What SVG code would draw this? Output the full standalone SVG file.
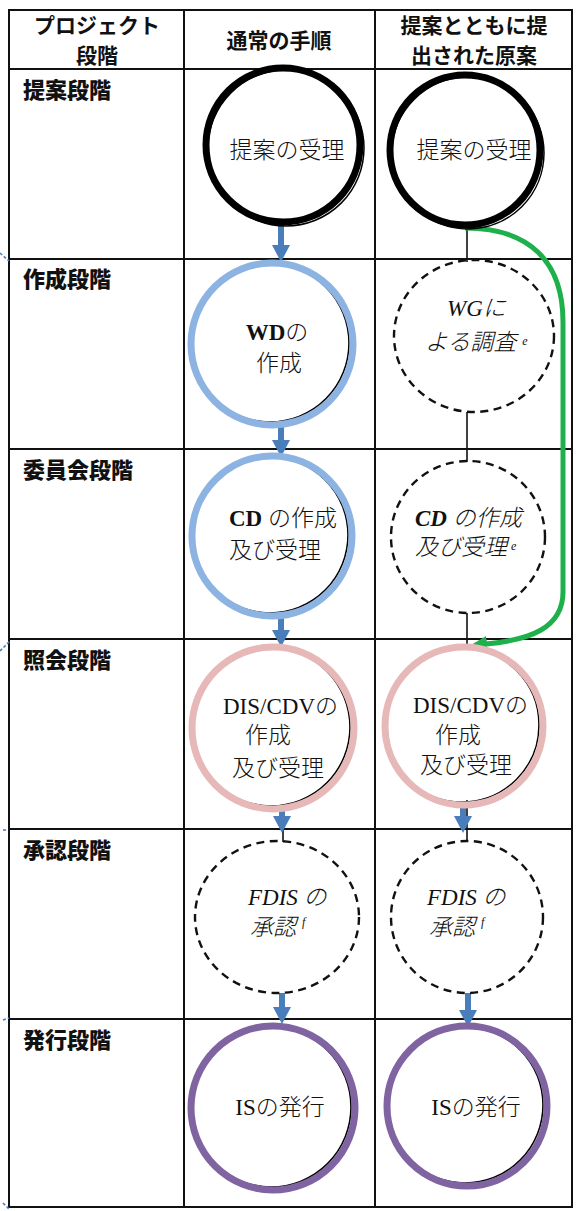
<svg xmlns="http://www.w3.org/2000/svg" width="577" height="1211" viewBox="0 0 577 1211">
<defs>
<style>
.grid{stroke:#111;stroke-width:2;fill:none}
.hd{font-family:"Noto Sans CJK JP","Noto Sans CJK SC",sans-serif;font-weight:700;font-size:21px;fill:#111;text-anchor:middle}
.rl{font-family:"Noto Sans CJK JP","Noto Sans CJK SC",sans-serif;font-weight:900;font-size:22px;fill:#111}
.t{font-family:"Liberation Serif","Noto Sans CJK JP",serif;font-weight:300;font-size:23px;fill:#111}
.it{font-style:italic}
.sup{font-size:12px}
.b{font-weight:700}
.blk{fill:none;stroke:#000;stroke-width:7}
.blk2{fill:none;stroke:#000;stroke-width:1.5}
.ring{fill:none;stroke-width:7}
.inner{fill:none;stroke:#000;stroke-width:1.6}
.blue{stroke:#8db3e2}
.pink{stroke:#e6b9b8}
.purple{stroke:#8064a2}
.dash{fill:none;stroke:#111;stroke-width:2.4;stroke-dasharray:8 5.5}
.conn{stroke:#111;stroke-width:1.6;fill:none}
.arr{stroke:#4a7ebb;stroke-width:6;fill:none}
.grn{stroke:#1eb14b;stroke-width:5;fill:none}
.tick{stroke:#4a7ebb;stroke-width:1.6;stroke-dasharray:3 2;fill:none}
</style>
<marker id="ah" markerUnits="userSpaceOnUse" viewBox="0 -9 17 18" markerWidth="17" markerHeight="18" refX="1" refY="0" orient="auto">
<path d="M0,-9 L17,0 L0,9 z" fill="#4a7ebb"/>
</marker>
<marker id="gh" markerUnits="userSpaceOnUse" viewBox="0 -8 17 16" markerWidth="17" markerHeight="16" refX="1" refY="0" orient="auto">
<path d="M0,-8 L17,0 L0,8 z" fill="#1eb14b"/>
</marker>
</defs>
<rect width="577" height="1211" fill="#fff"/>

<g id="table">
<rect class="grid" x="9" y="10" width="563" height="1197"/>
<line class="grid" x1="184" y1="10" x2="184" y2="1207"/>
<line class="grid" x1="375" y1="10" x2="375" y2="1207"/>
<line class="grid" x1="9" y1="69" x2="572" y2="69"/>
<line class="grid" x1="9" y1="259" x2="572" y2="259"/>
<line class="grid" x1="9" y1="449" x2="572" y2="449"/>
<line class="grid" x1="9" y1="639" x2="572" y2="639"/>
<line class="grid" x1="9" y1="829" x2="572" y2="829"/>
<line class="grid" x1="9" y1="1019" x2="572" y2="1019"/>
<text class="hd" x="97" y="33">プロジェクト</text>
<text class="hd" x="97" y="63">段階</text>
<text class="hd" x="279" y="48">通常の手順</text>
<text class="hd" x="474" y="33">提案とともに提</text>
<text class="hd" x="474" y="63">出された原案</text>
<text class="rl" x="23" y="98">提案段階</text>
<text class="rl" x="23" y="287">作成段階</text>
<text class="rl" x="23" y="478">委員会段階</text>
<text class="rl" x="23" y="668">照会段階</text>
<text class="rl" x="23" y="858">承認段階</text>
<text class="rl" x="23" y="1048">発行段階</text>
<path class="tick" d="M0,253 L9,261"/>
<path class="tick" d="M0,651 L10,641"/>
<path class="tick" d="M3,830 L7,830"/>
<path class="tick" d="M3,1020 L9,1018"/>
<path class="tick" d="M3,1203 L9,1209"/>
</g>

<g id="connectors">
<line class="conn" x1="467" y1="227" x2="467" y2="262"/>
<line class="conn" x1="467" y1="412" x2="467" y2="462"/>
<line class="conn" x1="467" y1="613" x2="467" y2="647"/>
<line class="conn" x1="467" y1="800" x2="467" y2="842"/>
<line class="conn" x1="283" y1="828" x2="283" y2="842"/>
<line class="arr" x1="281" y1="226" x2="281" y2="246" marker-end="url(#ah)"/>
<line class="arr" x1="281" y1="425" x2="281" y2="441" marker-end="url(#ah)"/>
<line class="arr" x1="281" y1="617" x2="281" y2="631" marker-end="url(#ah)"/>
<line class="arr" x1="282" y1="807" x2="282" y2="817" marker-end="url(#ah)"/>
<line class="arr" x1="282" y1="993" x2="282" y2="1008" marker-end="url(#ah)"/>
<line class="arr" x1="463" y1="804" x2="463" y2="817" marker-end="url(#ah)"/>
<line class="arr" x1="468" y1="993" x2="468" y2="1011" marker-end="url(#ah)"/>
<path class="grn" d="M465,228 C530,228 563,262 563,322 L563,592 C563,628 530,640 486,644" marker-end="url(#gh)"/>
</g>

<g id="n1a">
<circle class="blk2" cx="286" cy="148" r="78"/>
<circle class="blk" cx="283" cy="145" r="77"/>
<text class="t" x="287" y="158" text-anchor="middle">提案の受理</text>
</g>
<g id="n1b">
<circle class="blk2" cx="468" cy="153" r="76"/>
<circle class="blk" cx="465" cy="150" r="75"/>
<text class="t" x="474" y="158" text-anchor="middle">提案の受理</text>
</g>

<g id="n2a">
<circle class="inner" cx="270" cy="343" r="79"/>
<circle class="ring blue" cx="272" cy="344" r="81"/>
<text class="t" x="277" y="340" text-anchor="middle"><tspan class="b">WD</tspan>の</text>
<text class="t" x="279" y="371" text-anchor="middle">作成</text>
</g>
<g id="n2b">
<ellipse class="dash" cx="474" cy="336" rx="80" ry="76"/>
<text class="t it" x="447" y="316">WGに</text>
<text class="t it" x="425" y="350">よる調査<tspan class="sup" dx="6" dy="-5">e</tspan></text>
</g>

<g id="n3a">
<circle class="inner" cx="270" cy="535" r="78"/>
<circle class="ring blue" cx="272" cy="536" r="80"/>
<text class="t" x="229" y="526"><tspan class="b">CD</tspan> の作成</text>
<text class="t" x="229" y="558">及び受理</text>
</g>
<g id="n3b">
<ellipse class="dash" cx="468" cy="537" rx="77" ry="76"/>
<text class="t it" x="415" y="526"><tspan class="b">CD</tspan> の作成</text>
<text class="t it" x="415" y="555">及び受理<tspan class="sup" dx="4" dy="-5">e</tspan></text>
</g>

<g id="n4a">
<circle class="inner" cx="271" cy="727" r="79"/>
<circle class="ring pink" cx="273" cy="728" r="81"/>
<text class="t" x="223" y="714">DIS/CDVの</text>
<text class="t" x="245" y="743">作成</text>
<text class="t" x="232" y="776">及び受理</text>
</g>
<g id="n4b">
<circle class="inner" cx="462" cy="725" r="77"/>
<circle class="ring pink" cx="464" cy="726" r="79"/>
<text class="t" x="413" y="713">DIS/CDVの</text>
<text class="t" x="435" y="743">作成</text>
<text class="t" x="420" y="773">及び受理</text>
</g>

<g id="n5a">
<ellipse class="dash" cx="277" cy="917" rx="82" ry="76"/>
<text class="t it" x="248" y="905">FDIS の</text>
<text class="t it" x="250" y="935">承認<tspan class="sup" dx="6" dy="-9">f</tspan></text>
</g>
<g id="n5b">
<ellipse class="dash" cx="467" cy="917" rx="76" ry="76"/>
<text class="t it" x="427" y="905">FDIS の</text>
<text class="t it" x="429" y="935">承認<tspan class="sup" dx="6" dy="-9">f</tspan></text>
</g>

<g id="n6a">
<circle class="inner" cx="271" cy="1107" r="80"/>
<circle class="ring purple" cx="273" cy="1108" r="82"/>
<text class="t" x="280" y="1115" text-anchor="middle">ISの発行</text>
</g>
<g id="n6b">
<circle class="inner" cx="465" cy="1105" r="78"/>
<circle class="ring purple" cx="467" cy="1106" r="80"/>
<text class="t" x="476" y="1115" text-anchor="middle">ISの発行</text>
</g>
</svg>
